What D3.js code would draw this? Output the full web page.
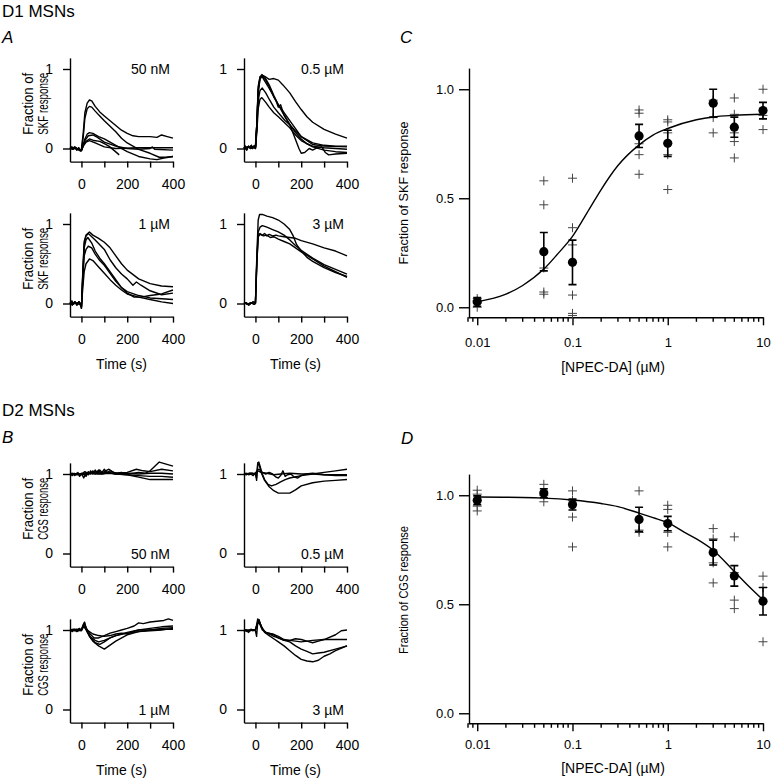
<!DOCTYPE html>
<html>
<head>
<meta charset="utf-8">
<script src="https://cdn.jsdelivr.net/npm/d3@7"></script>
<style>
body { margin: 0; background: #fff; }
svg text { font-family: "Liberation Sans", Arial, Helvetica, sans-serif; fill: #000; }
</style>
</head>
<body>
<svg id="fig" width="773" height="780"></svg>
<script>
// ---- time course traces, [time (s), fraction] ----
const skf50nM = [
    [[-50,0],[-42,0.02],[-35,-0.01],[-28,0.01],[-20,-0.02],[-12,0.01],[-5,-0.03],[0,-0.01],[8,0.2],[15,0.45],[25,0.57],[35,0.61],[45,0.6],[60,0.53],[80,0.46],[100,0.41],[125,0.35],[150,0.29],[175,0.23],[200,0.19],[225,0.16],[250,0.15],[300,0.15],[330,0.14],[350,0.17],[375,0.15],[400,0.13]],
    [[-50,0],[-42,0.02],[-35,-0.01],[-28,0.01],[-20,-0.02],[-12,0.01],[-5,-0.03],[0,-0.01],[8,0.15],[15,0.38],[25,0.5],[35,0.53],[45,0.52],[60,0.47],[80,0.41],[100,0.35],[125,0.28],[150,0.21],[175,0.13],[200,0.07],[250,-0.01],[300,-0.06],[340,-0.11],[370,-0.11],[400,-0.1]],
    [[-50,0.01],[-40,-0.01],[-30,0.02],[-20,0],[-10,-0.02],[0,-0.03],[8,0.05],[15,0.12],[25,0.18],[35,0.2],[50,0.19],[75,0.15],[100,0.12],[125,0.08],[150,0.04],[200,-0.04],[250,-0.1],[300,-0.13],[330,-0.14],[360,-0.12],[400,-0.1]],
    [[-50,0.01],[-40,-0.01],[-30,0.02],[-20,0],[-10,-0.02],[0,-0.03],[8,0.04],[15,0.1],[30,0.16],[50,0.17],[70,0.14],[100,0.08],[150,0.03],[200,0],[250,-0.01],[300,0],[310,0.02],[320,-0.01],[400,-0.02]],
    [[-50,0],[-30,0.01],[-10,-0.01],[0,-0.02],[8,0.03],[20,0.08],[35,0.1],[60,0.07],[100,0.02],[150,0],[250,0.01],[300,0.01],[400,0.01]],
    [[-50,0],[-30,0.01],[-10,-0.01],[0,-0.02],[8,0.04],[20,0.09],[35,0.12],[55,0.1],[80,0.09],[100,0.06],[120,0.03],[145,-0.03],[165,-0.08]]
]
const skf05uM = [
    [[-50,0],[-44,0.03],[-38,-0.02],[-32,0.02],[-25,0.01],[-18,0.04],[-12,0],[-6,0.03],[0,0.02],[6,0.3],[12,0.7],[20,0.88],[30,0.92],[45,0.9],[60,0.87],[80,0.88],[100,0.86],[120,0.8],[150,0.7],[175,0.59],[200,0.49],[225,0.4],[250,0.33],[300,0.24],[350,0.18],[400,0.13]],
    [[-50,0],[-44,0.03],[-38,-0.02],[-32,0.02],[-25,0.01],[-18,0.04],[-12,0],[-6,0.03],[0,0.02],[6,0.3],[12,0.75],[20,0.9],[28,0.93],[40,0.9],[60,0.8],[80,0.67],[100,0.55],[125,0.42],[150,0.3],[175,0.2],[200,0.12],[225,0.06],[250,0.03],[300,0.01],[350,0],[400,-0.01]],
    [[-50,0.02],[-40,-0.01],[-30,0.03],[-20,0],[-10,0.02],[0,0],[6,0.3],[12,0.72],[20,0.88],[30,0.9],[40,0.85],[55,0.78],[75,0.68],[90,0.6],[100,0.52],[110,0.55],[125,0.42],[150,0.3],[170,0.15],[190,0],[200,-0.06],[215,-0.05],[235,0],[250,-0.02],[270,0.01],[290,0.02],[305,-0.05],[320,-0.08],[350,-0.07],[400,-0.06]],
    [[-50,0.02],[-40,-0.01],[-30,0.03],[-20,0],[-10,0.02],[0,0],[6,0.25],[12,0.6],[20,0.73],[30,0.76],[45,0.7],[60,0.62],[80,0.52],[100,0.45],[130,0.35],[150,0.3],[175,0.22],[200,0.15],[250,0.07],[300,0.04],[350,0.03],[400,0.03]],
    [[-50,0],[-35,0.02],[-20,0.01],[-5,0.03],[0,0.01],[6,0.2],[12,0.5],[20,0.62],[28,0.64],[45,0.58],[60,0.52],[80,0.45],[100,0.4],[125,0.33],[150,0.26],[175,0.17],[200,0.1],[250,0.02],[300,-0.02],[350,-0.04],[400,-0.05]],
    [[-50,0],[-35,0.02],[-20,0.01],[-5,0.03],[0,0.01],[6,0.3],[12,0.78],[20,0.9],[30,0.91],[45,0.86],[60,0.78],[80,0.65],[100,0.55],[125,0.45],[150,0.35],[175,0.25],[200,0.15],[250,0.05],[300,0.03],[400,0.02]]
]
const skf1uM = [
    [[-50,0],[-42,0.03],[-35,-0.01],[-28,0.02],[-20,-0.02],[-12,0.02],[-5,0],[0,-0.06],[6,0.4],[12,0.78],[20,0.86],[35,0.9],[50,0.86],[75,0.82],[100,0.77],[125,0.7],[150,0.6],[175,0.5],[200,0.42],[250,0.31],[300,0.25],[350,0.22],[400,0.21]],
    [[-50,0],[-42,0.03],[-35,-0.01],[-28,0.02],[-20,-0.02],[-12,0.02],[-5,0],[0,-0.06],[6,0.4],[12,0.75],[20,0.85],[30,0.88],[45,0.84],[60,0.8],[80,0.74],[100,0.68],[125,0.55],[150,0.45],[175,0.37],[200,0.31],[225,0.23],[240,0.27],[260,0.23],[300,0.16],[350,0.11],[400,0.13]],
    [[-50,0.01],[-40,-0.02],[-30,0.02],[-20,0],[-10,0.02],[0,-0.04],[6,0.35],[12,0.7],[20,0.8],[28,0.83],[45,0.76],[60,0.66],[80,0.57],[100,0.5],[125,0.4],[150,0.3],[175,0.2],[200,0.13],[230,0.08],[260,0.08],[300,0.1],[350,0.12],[400,0.17]],
    [[-50,0.01],[-40,-0.02],[-30,0.02],[-20,0],[-10,0.02],[0,-0.04],[6,0.3],[12,0.6],[20,0.68],[30,0.72],[45,0.7],[60,0.62],[80,0.54],[100,0.48],[125,0.38],[150,0.28],[175,0.2],[200,0.15],[250,0.1],[300,0.07],[350,0.06],[400,0.05]],
    [[-50,0],[-30,0.01],[-10,-0.01],[0,-0.03],[6,0.2],[12,0.4],[20,0.5],[35,0.56],[50,0.54],[75,0.46],[100,0.38],[125,0.3],[150,0.23],[175,0.17],[200,0.12],[250,0.08],[300,0.05],[350,0.02],[400,0]]
]
const skf3uM = [
    [[-50,0],[-40,0.01],[-30,-0.02],[-20,0],[-10,0.02],[0,0.01],[6,0.6],[12,1.05],[18,1.12],[30,1.12],[50,1.1],[75,1.08],[100,1.05],[125,1],[150,0.93],[165,0.85],[180,0.74],[200,0.66],[225,0.58],[250,0.53],[300,0.45],[350,0.39],[400,0.34]],
    [[-50,0],[-40,0.01],[-30,-0.02],[-20,0],[-10,0.02],[0,0.01],[6,0.55],[12,0.9],[20,0.96],[30,0.98],[50,0.96],[75,0.93],[100,0.9],[125,0.86],[150,0.8],[175,0.73],[200,0.67],[250,0.57],[300,0.49],[350,0.43],[400,0.37]],
    [[-50,0.01],[-35,-0.01],[-20,0.01],[-5,-0.01],[0,0],[6,0.5],[12,0.85],[20,0.88],[30,0.86],[40,0.88],[50,0.85],[60,0.87],[75,0.85],[90,0.86],[100,0.85],[125,0.84],[150,0.83],[175,0.82],[200,0.79],[250,0.75],[300,0.7],[350,0.66],[400,0.6]],
    [[-50,0.01],[-35,-0.01],[-20,0.01],[-5,-0.01],[0,0],[6,0.5],[12,0.84],[20,0.87],[35,0.85],[50,0.86],[65,0.83],[80,0.84],[100,0.81],[125,0.78],[150,0.75],[175,0.7],[200,0.65],[250,0.56],[300,0.47],[350,0.4],[400,0.33]]
]
const cgs50nM = [
    [[-50,1],[-40,0.98],[-32,1.01],[-25,0.99],[-15,1.02],[-8,0.97],[0,1.01],[10,0.95],[20,1.02],[30,0.99],[40,1.04],[50,1],[60,1.05],[70,1.01],[80,1.05],[90,1.02],[100,1.06],[110,1.02],[125,1.04],[150,1.01],[175,1.02],[200,1],[250,1.02],[280,1.01],[300,1.04],[340,1.15],[400,1.1]],
    [[-50,1],[-40,1.01],[-30,0.98],[-20,1.01],[-10,0.99],[0,1],[10,1.01],[20,0.97],[30,1.03],[40,1],[50,1.04],[60,1],[75,1.05],[85,1.01],[100,1.03],[120,1.06],[140,1.02],[160,1.01],[200,1.02],[240,1.06],[270,1.04],[300,1.03],[350,1.06],[400,1.04]],
    [[-50,1],[-35,1],[-20,0.99],[0,1],[15,1.03],[30,1],[45,1.02],[65,1.03],[90,1],[120,1.02],[150,1],[200,1.01],[250,1],[300,1.01],[350,1.01],[400,1]],
    [[-50,1],[-30,1],[0,0.99],[20,1],[50,1.02],[80,1],[120,1.01],[160,1],[200,0.99],[250,0.98],[300,0.97],[350,0.97],[400,0.96]],
    [[-50,1],[-25,1],[0,1],[30,1.01],[70,1],[110,1.02],[150,1],[200,0.99],[250,0.96],[300,0.93],[350,0.93],[400,0.93]]
]
const cgs05uM = [
    [[-50,1],[-40,1.01],[-30,0.99],[-20,1],[-10,0.98],[0,1.02],[5,0.92],[10,1.14],[15,1.15],[22,1.08],[30,1],[40,0.93],[55,0.87],[70,0.85],[90,0.87],[110,0.9],[130,0.93],[150,0.95],[200,0.98],[250,1],[300,1.02],[350,1.04],[400,1.06]],
    [[-50,1],[-30,1],[-10,1.01],[0,0.99],[5,0.95],[10,1.12],[16,1.12],[25,1.02],[40,0.92],[60,0.84],[80,0.79],[100,0.76],[125,0.76],[150,0.76],[175,0.8],[200,0.85],[250,0.89],[300,0.91],[350,0.92],[400,0.93]],
    [[-50,1],[-40,0.99],[-25,1.01],[0,1],[10,1.06],[20,1.05],[30,1.02],[45,1],[60,1.02],[75,1],[90,0.96],[100,0.95],[110,0.98],[120,1.04],[130,0.97],[140,0.99],[155,1],[170,0.96],[185,0.95],[200,0.98],[220,1],[250,1.01],[300,0.99],[350,0.98],[400,0.98]],
    [[-50,1],[-20,1.01],[0,1],[10,1.04],[25,1.02],[50,1.01],[80,0.99],[110,1],[150,1.01],[200,1],[250,1],[300,0.99],[350,0.99],[400,0.99]]
]
const cgs1uM = [
    [[-50,1],[-40,0.98],[-30,1.01],[-20,0.99],[-10,1.02],[0,1],[8,1.05],[14,1.1],[20,1.02],[35,0.92],[50,0.86],[75,0.8],[100,0.76],[150,0.86],[200,0.94],[250,0.98],[300,1],[350,1.02],[400,1.03]],
    [[-50,1],[-35,1.01],[-20,0.98],[0,1.01],[10,1.08],[16,1.06],[25,0.98],[40,0.91],[60,0.87],[75,0.85],[100,0.87],[125,0.9],[150,0.93],[175,0.95],[200,0.97],[250,1],[300,1],[350,1.01],[400,1.01]],
    [[-50,1],[-30,0.99],[-10,1.01],[0,1],[12,1.09],[20,1.03],[35,0.96],[55,0.9],[75,0.9],[100,0.93],[125,0.96],[150,0.98],[175,1],[200,1.02],[230,1.05],[250,1.09],[270,1.08],[300,1.1],[330,1.11],[360,1.12],[380,1.14],[400,1.12]],
    [[-50,1],[-25,1],[0,0.99],[10,1.06],[20,1],[40,0.9],[60,0.84],[80,0.82],[100,0.85],[125,0.9],[150,0.93],[200,0.96],[250,0.98],[300,0.99],[350,1],[400,1.02]],
    [[-50,1],[-20,1.01],[0,1],[10,1.04],[25,1],[50,0.95],[75,0.93],[100,0.92],[125,0.93],[150,0.95],[175,0.96],[200,0.95],[225,0.98],[250,1],[300,1.02],[350,1.04],[400,1.05]]
]
const cgs3uM = [
    [[-50,0.98],[-40,1],[-30,0.97],[-20,1],[-10,0.99],[0,1.01],[5,1.06],[10,1.14],[15,1.12],[25,1.05],[40,0.97],[60,0.93],[80,0.89],[100,0.85],[125,0.8],[150,0.74],[175,0.68],[200,0.63],[225,0.61],[250,0.6],[275,0.62],[300,0.67],[325,0.7],[350,0.74],[400,0.8]],
    [[-50,1],[-35,0.98],[-20,1.01],[0,0.99],[5,0.92],[10,1.1],[16,1.13],[25,1.04],[40,0.98],[60,0.95],[80,0.92],[100,0.9],[125,0.87],[150,0.85],[175,0.8],[200,0.76],[225,0.73],[250,0.7],[275,0.71],[300,0.72],[350,0.76],[400,0.8]],
    [[-50,1],[-30,0.99],[-10,1],[0,1],[10,1.08],[18,1.1],[30,1.02],[45,0.97],[60,0.96],[80,0.94],[100,0.9],[125,0.87],[150,0.87],[175,0.89],[200,0.88],[225,0.86],[250,0.84],[275,0.86],[300,0.88],[350,0.94],[375,0.99],[400,1]],
    [[-50,1],[-25,1],[0,1],[10,1.1],[18,1.08],[30,1],[50,0.96],[75,0.95],[100,0.92],[125,0.88],[150,0.87],[175,0.86],[200,0.85],[250,0.87],[300,0.88],[350,0.88],[400,0.88]]
]
const timeTicks = [0, 100, 200, 300, 400]

// ---- dose response ----
const concs = [0.01, 0.05, 0.1, 0.5, 1, 3, 5, 10]
const skfMean = [0.025, 0.255, 0.206, 0.786, 0.752, 0.936, 0.826, 0.902]
const skfSem = [0.02, 0.088, 0.102, 0.053, 0.06, 0.064, 0.046, 0.038]
const skfCells = [
    [0.04, 0.03, 0.02, 0.0],
    [0.58, 0.47, 0.18, 0.07, 0.06],
    [0.592, 0.365, 0.286, 0.056, -0.028, -0.038],
    [0.905, 0.89, 0.75, 0.70, 0.61],
    [0.86, 0.85, 0.80, 0.70, 0.54],
    [0.95, 0.87, 0.80],
    [0.96, 0.885, 0.80, 0.76, 0.685],
    [1.0, 0.88, 0.815]
]
const skfFit = [[0.01,0.025],[0.02,0.06],[0.03,0.1],[0.05,0.175],[0.07,0.245],[0.1,0.325],[0.15,0.45],[0.2,0.54],[0.3,0.65],[0.5,0.745],[0.7,0.79],[1,0.82],[2,0.86],[3,0.873],[5,0.88],[10,0.885]]

const cgsMean = [0.977, 1.01, 0.957, 0.889, 0.870, 0.737, 0.63, 0.514]
const cgsSem = [0.02, 0.02, 0.025, 0.056, 0.033, 0.057, 0.047, 0.063]
const cgsCells = [
    [1.023, 1.005, 0.95, 0.928],
    [1.05, 1.0, 0.97],
    [1.02, 0.977, 0.90, 0.763],
    [1.02, 0.84, 0.83],
    [0.954, 0.935, 0.83, 0.763],
    [0.847, 0.80, 0.69, 0.598],
    [0.809, 0.645, 0.519, 0.48],
    [0.629, 0.577, 0.328]
]
const cgsFit = [[0.01,0.992],[0.03,0.99],[0.05,0.987],[0.1,0.978],[0.2,0.962],[0.3,0.948],[0.5,0.918],[0.7,0.897],[1,0.874],[1.5,0.83],[2,0.8],[3,0.748],[5,0.65],[7,0.585],[10,0.52]]

const svg = d3.select('#fig')
const font = 14

function styleAxis(a, size) {
    a.attr('font-size', size)
    a.selectAll('path, line').attr('stroke', '#000').attr('stroke-width', 1.4)
}

function tracePanel(p) {
    const unit = 79.5
    const x = d3.scaleLinear().domain([-50, 400]).range([p.left, p.left + 103])
    const y = d3.scaleLinear().domain([-0.165, 1.14]).range([p.y1 + unit * 1.165, p.y1 - unit * 0.14])
    const g = svg.append('g')

    g.append('g')
        .attr('transform', `translate(0,${y(-0.165)})`)
        .call(d3.axisBottom(x).tickValues(timeTicks).tickFormat(d => d % 200 === 0 ? d : '')
            .tickSize(6).tickPadding(11).tickSizeOuter(0))
        .call(a => styleAxis(a, font))

    g.append('g')
        .attr('transform', `translate(${p.left},0)`)
        .call(d3.axisLeft(y).tickValues([0, 1]).tickFormat(d3.format('d'))
            .tickSize(7).tickPadding(10).tickSizeOuter(0))
        .call(a => styleAxis(a, font))

    g.selectAll('path.trace')
        .data(p.traces)
        .join('path')
        .attr('class', 'trace')
        .attr('fill', 'none')
        .attr('stroke', '#000')
        .attr('stroke-width', 1.4)
        .attr('stroke-linejoin', 'round')
        .attr('d', d3.line().x(d => x(d[0])).y(d => y(d[1])))

    g.append('text')
        .attr('x', p.left + 100)
        .attr('y', p.labelBottom ? y(0) + 5 : y(1) + 5)
        .attr('text-anchor', 'end')
        .attr('font-size', font)
        .text(p.label)

    if (p.drug) {
        const cy = (y(-0.165) + y(1.14)) / 2 - 6
        ;['Fraction of', p.drug + ' response'].forEach((t, i) => {
            g.append('text')
                .attr('transform', `translate(${33 + i * 15},${cy}) rotate(-90)`)
                .attr('text-anchor', 'middle')
                .attr('font-size', 14)
                .attr('textLength', 62)
                .attr('lengthAdjust', 'spacingAndGlyphs')
                .text(t)
        })
    }
    if (p.timeLabel) {
        g.append('text')
            .attr('x', x(175))
            .attr('y', y(-0.165) + 52)
            .attr('text-anchor', 'middle')
            .attr('font-size', font)
            .text('Time (s)')
    }
}

function dosePanel(p) {
    const x = d3.scaleLog().domain([0.008, 10]).range([468, 763])
    const y = d3.scaleLinear().domain([-0.046, 1.097]).range([p.y0 + 10, p.y0 - 239.2])
    const g = svg.append('g')

    const xAxis = g.append('g').attr('transform', `translate(0,${y(-0.046)})`)
    xAxis.call(d3.axisBottom(x).tickValues([0.01, 0.1, 1, 10]).tickFormat(d3.format('~g'))
        .tickSize(8).tickPadding(p.tickPad).tickSizeOuter(0))
        .call(a => styleAxis(a, 13))
    const minors = []
    ;[0.001, 0.01, 0.1, 1].forEach(dec => d3.range(2, 10).forEach(m => {
        const v = dec * m
        if (v >= 0.008 && v < 10) minors.push(v)
    }))
    xAxis.selectAll('line.minor')
        .data(minors)
        .join('line')
        .attr('class', 'minor')
        .attr('x1', d => x(d)).attr('x2', d => x(d))
        .attr('y1', 0).attr('y2', 4.5)
        .attr('stroke', '#000').attr('stroke-width', 1.4)

    g.append('g')
        .attr('transform', 'translate(469,0)')
        .call(d3.axisLeft(y).tickValues([0, 0.5, 1]).tickFormat(d3.format('.1f'))
            .tickSize(10).tickPadding(5).tickSizeOuter(0))
        .call(a => styleAxis(a, 13))

    // individual cells
    const pts = []
    p.cells.forEach((arr, i) => arr.forEach(v => pts.push([concs[i], v])))
    g.selectAll('path.cell')
        .data(pts)
        .join('path')
        .attr('class', 'cell')
        .attr('d', d => `M${x(d[0]) - 4.5},${y(d[1])}h9M${x(d[0])},${y(d[1]) - 4.5}v9`)
        .attr('stroke', '#444')
        .attr('stroke-width', 1)
        .attr('fill', 'none')

    g.append('path')
        .datum(p.fit)
        .attr('fill', 'none')
        .attr('stroke', '#000')
        .attr('stroke-width', 1.4)
        .attr('d', d3.line().curve(d3.curveMonotoneX).x(d => x(d[0])).y(d => y(d[1])))

    const err = g.selectAll('g.err')
        .data(concs.map((c, i) => ({ c, m: p.mean[i], s: p.sem[i] })))
        .join('g')
        .attr('class', 'err')
        .attr('stroke', '#000')
        .attr('stroke-width', 1.6)
    err.append('line')
        .attr('x1', d => x(d.c)).attr('x2', d => x(d.c))
        .attr('y1', d => y(d.m - d.s)).attr('y2', d => y(d.m + d.s))
    err.append('path')
        .attr('d', d => `M${x(d.c) - 4},${y(d.m - d.s)}h8M${x(d.c) - 4},${y(d.m + d.s)}h8`)

    g.selectAll('circle.mean')
        .data(concs.map((c, i) => [c, p.mean[i]]))
        .join('circle')
        .attr('class', 'mean')
        .attr('cx', d => x(d[0]))
        .attr('cy', d => y(d[1]))
        .attr('r', 4.6)
        .attr('fill', '#000')

    g.append('text')
        .attr('transform', `translate(408,${p.labelY}) rotate(-90)`)
        .attr('text-anchor', 'middle')
        .attr('font-size', 13)
        .attr('textLength', p.labelLen)
        .attr('lengthAdjust', 'spacingAndGlyphs')
        .text(p.yLabel)

    g.append('text')
        .attr('x', 613)
        .attr('y', y(-0.046) + p.titleGap)
        .attr('text-anchor', 'middle')
        .attr('font-size', 14)
        .text('[NPEC-DA] (µM)')
}

// panel headings
const heads = [
    { t: 'D1 MSNs', x: 2, y: 17, italic: false },
    { t: 'A', x: 2, y: 43, italic: true },
    { t: 'D2 MSNs', x: 2, y: 416, italic: false },
    { t: 'B', x: 2, y: 443, italic: true },
    { t: 'C', x: 400, y: 43, italic: true },
    { t: 'D', x: 401, y: 444, italic: true }
]
svg.selectAll('text.head')
    .data(heads)
    .join('text')
    .attr('class', 'head')
    .attr('x', d => d.x)
    .attr('y', d => d.y)
    .attr('font-size', 17)
    .attr('font-style', d => d.italic ? 'italic' : 'normal')
    .text(d => d.t)

tracePanel({ left: 70, y1: 69, traces: skf50nM, label: '50 nM', drug: 'SKF' })
tracePanel({ left: 244, y1: 69, traces: skf05uM, label: '0.5 µM' })
tracePanel({ left: 70, y1: 224, traces: skf1uM, label: '1 µM', drug: 'SKF', timeLabel: true })
tracePanel({ left: 244, y1: 224, traces: skf3uM, label: '3 µM', timeLabel: true })

tracePanel({ left: 70, y1: 474, traces: cgs50nM, label: '50 nM', drug: 'CGS', labelBottom: true })
tracePanel({ left: 244, y1: 474, traces: cgs05uM, label: '0.5 µM', labelBottom: true })
tracePanel({ left: 70, y1: 630, traces: cgs1uM, label: '1 µM', drug: 'CGS', labelBottom: true, timeLabel: true })
tracePanel({ left: 244, y1: 630, traces: cgs3uM, label: '3 µM', labelBottom: true, timeLabel: true })

dosePanel({ y0: 307.3, mean: skfMean, sem: skfSem, cells: skfCells, fit: skfFit, yLabel: 'Fraction of SKF response', labelY: 193, labelLen: 143, tickPad: 12, titleGap: 55 })
dosePanel({ y0: 713.3, mean: cgsMean, sem: cgsSem, cells: cgsCells, fit: cgsFit, yLabel: 'Fraction of CGS response', labelY: 590, labelLen: 128, tickPad: 8, titleGap: 50 })
</script>
</body>
</html>
